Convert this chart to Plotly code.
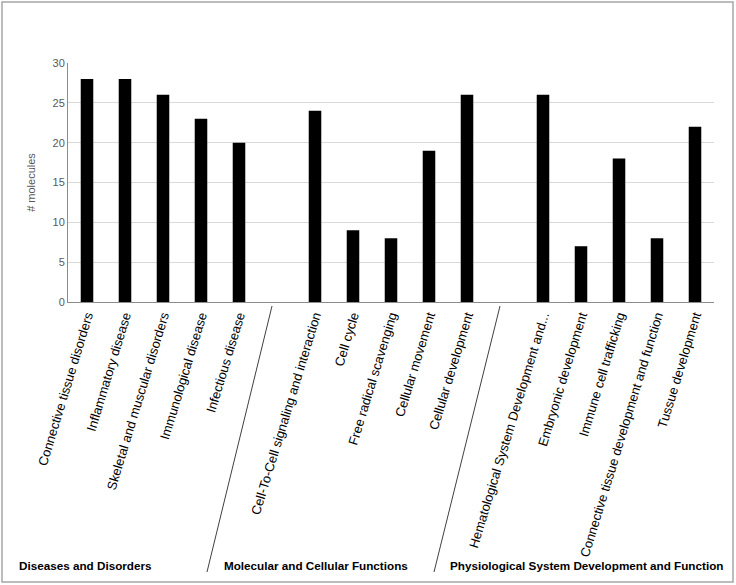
import plotly.graph_objects as go

categories = [
    "Connective tissue disorders", "Inflammatory disease", "Skeletal and muscular disorders",
    "Immunological disease", "Infectious disease", " ",
    "Cell-To-Cell signaling and interaction", "Cell cycle", "Free radical scavenging",
    "Cellular movement", "Cellular development", "  ",
    "Hematological System Development and...", "Embryonic development", "Immune cell trafficking",
    "Connective tissue development and function", "Tussue development",
]
values = [28, 28, 26, 23, 20, None, 24, 9, 8, 19, 26, None, 26, 7, 18, 8, 22]
groups = ["Diseases and Disorders", "Molecular and Cellular Functions",
          "Physiological System Development and Function"]
y_ticks = [0, 5, 10, 15, 20, 25, 30]

W, H = 736, 585
L, R, T, B = 68, 22, 63, 283
pw, ph = W - L - R, H - T - B

def px(x):
    return (x - L) / pw

def py(y):
    return (H - B - y) / ph

fig = go.Figure(go.Bar(
    x=categories, y=values, marker=dict(color="black", line=dict(width=0)),
    width=0.33,
))

shapes = [
    dict(type="rect", xref="paper", yref="paper", x0=px(2), x1=px(733), y0=py(582), y1=py(2),
         line=dict(color="#a6a6a6", width=1.5)),
    dict(type="line", xref="paper", yref="paper", x0=px(272), x1=px(207), y0=py(306), y1=py(572),
         line=dict(color="#404040", width=1)),
    dict(type="line", xref="paper", yref="paper", x0=px(500), x1=px(434), y0=py(306), y1=py(572),
         line=dict(color="#404040", width=1)),
]

gfont = dict(family="Liberation Sans, Arial", size=11.7, color="black")
annotations = [
    dict(text="<b>%s</b>" % groups[0], xref="paper", yref="paper", x=px(17), y=py(565),
         xanchor="left", yanchor="middle", showarrow=False, font=gfont),
    dict(text="<b>%s</b>" % groups[1], xref="paper", yref="paper", x=px(222), y=py(565),
         xanchor="left", yanchor="middle", showarrow=False, font=gfont),
    dict(text="<b>%s</b>" % groups[2], xref="paper", yref="paper", x=px(448), y=py(565),
         xanchor="left", yanchor="middle", showarrow=False, font=gfont),
]

fig.update_layout(
    width=W, height=H,
    margin=dict(l=L, r=R, t=T, b=B),
    plot_bgcolor="white", paper_bgcolor="white",
    showlegend=False,
    shapes=shapes, annotations=annotations,
    xaxis=dict(
        type="category", tickangle=-73, showline=True, linecolor="#8c8c8c", linewidth=1,
        tickfont=dict(family="Liberation Sans, Arial", size=13, color="black"),
        ticks="", showgrid=False, range=[-0.5, 16.5], automargin=False,
    ),
    yaxis=dict(
        range=[0, 30], tickvals=y_ticks, showline=True, linecolor="#8c8c8c", linewidth=1,
        gridcolor="#d9d9d9", zeroline=False, ticks="", automargin=False,
        tickfont=dict(family="Liberation Sans, Arial", size=11, color="#595959"),
        title=dict(text="# molecules", font=dict(family="Liberation Sans, Arial", size=11, color="#595959"),
                   standoff=14),
    ),
)

fig.write_html("out.html", config={"displayModeBar": False},
               post_script="document.body.style.margin='0px';document.body.style.overflow='hidden';")
